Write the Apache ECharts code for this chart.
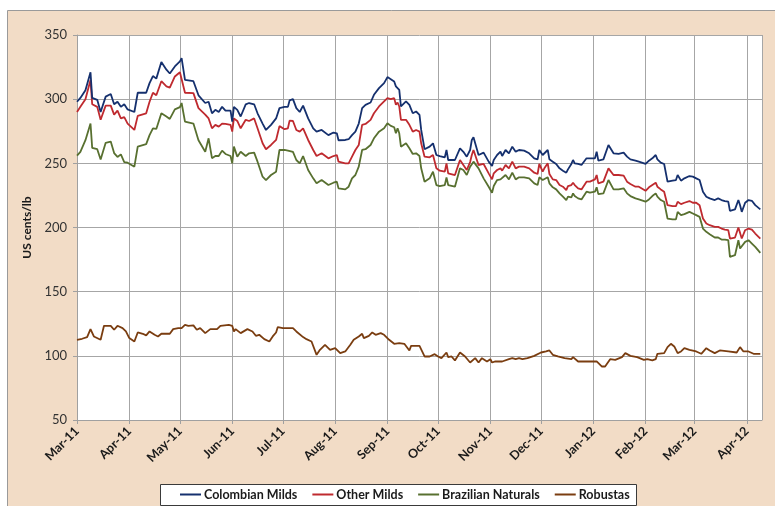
<!DOCTYPE html>
<html><head><meta charset="utf-8">
<script src="https://cdn.jsdelivr.net/npm/echarts@6.0.0/dist/echarts.min.js"></script>
<style>html,body{margin:0;padding:0;background:#fff}#c{width:775px;height:506px}</style>
</head><body><div id="c"></div>
<script>
// ---- data ----
const seriesNames = ['Colombian Milds', 'Other Milds', 'Brazilian Naturals', 'Robustas'];
const yTicks = [50, 100, 150, 200, 250, 300, 350];

const arabicaDates = [
'2011-03-01','2011-03-03','2011-03-06','2011-03-09','2011-03-10','2011-03-13','2011-03-15','2011-03-18','2011-03-21','2011-03-23','2011-03-25','2011-03-27','2011-03-29','2011-03-31',
'2011-04-04','2011-04-06','2011-04-11','2011-04-13','2011-04-15','2011-04-17','2011-04-20','2011-04-23','2011-04-25','2011-04-28',
'2011-05-01','2011-05-02','2011-05-04','2011-05-09','2011-05-12','2011-05-16','2011-05-18','2011-05-20','2011-05-22','2011-05-24','2011-05-26','2011-05-28','2011-05-31',
'2011-06-01','2011-06-02','2011-06-04','2011-06-06','2011-06-09','2011-06-11','2011-06-14','2011-06-16','2011-06-19','2011-06-21','2011-06-24','2011-06-27','2011-06-29',
'2011-07-02','2011-07-04','2011-07-05','2011-07-07','2011-07-09','2011-07-11','2011-07-13','2011-07-16','2011-07-19','2011-07-21','2011-07-24','2011-07-28','2011-07-31',
'2011-08-02','2011-08-03','2011-08-07','2011-08-09','2011-08-11','2011-08-13','2011-08-15','2011-08-17','2011-08-19','2011-08-22','2011-08-24','2011-08-27','2011-08-30',
'2011-09-01','2011-09-03','2011-09-05','2011-09-06','2011-09-07','2011-09-08','2011-09-09','2011-09-12','2011-09-14','2011-09-16','2011-09-18','2011-09-20','2011-09-21','2011-09-23','2011-09-26','2011-09-28','2011-09-30',
'2011-10-02','2011-10-05','2011-10-06','2011-10-07','2011-10-11','2011-10-14','2011-10-16','2011-10-18','2011-10-20','2011-10-21','2011-10-22','2011-10-23','2011-10-25','2011-10-28','2011-10-31',
'2011-11-02','2011-11-03','2011-11-05','2011-11-07','2011-11-08','2011-11-10','2011-11-12','2011-11-14','2011-11-16','2011-11-18','2011-11-21','2011-11-24','2011-11-27','2011-11-29','2011-11-30',
'2011-12-02','2011-12-03','2011-12-05','2011-12-06','2011-12-08','2011-12-10','2011-12-12','2011-12-14','2011-12-16','2011-12-17','2011-12-19','2011-12-20','2011-12-21','2011-12-23','2011-12-25','2011-12-28','2011-12-30',
'2012-01-02','2012-01-03','2012-01-04','2012-01-07','2012-01-10','2012-01-11','2012-01-13','2012-01-16','2012-01-17','2012-01-19','2012-01-21','2012-01-23','2012-01-24','2012-01-26','2012-01-28',
'2012-02-01','2012-02-03','2012-02-05','2012-02-07','2012-02-08','2012-02-10','2012-02-12','2012-02-14','2012-02-17','2012-02-19','2012-02-20','2012-02-22','2012-02-24','2012-02-27','2012-02-29',
'2012-03-02','2012-03-04','2012-03-06','2012-03-08','2012-03-10','2012-03-13','2012-03-15','2012-03-17','2012-03-19','2012-03-21','2012-03-22','2012-03-25','2012-03-27','2012-03-28','2012-03-29','2012-03-31',
'2012-04-02','2012-04-04','2012-04-06','2012-04-09'
];

const colombianMilds = [
298,301,307,321,301,299.5,290,302,304,296,298,294,296,292,
290,305,305,312.5,318,316,329,323,320,325.5,
329.4,332,315,314,303,297,298,289,291.7,290,294,291,291,
282.5,294,291.7,286.5,296,297,296,289,281,276,280,285,293,
294,294,299,300,293,290,295,285,277.3,274.7,276,272,274,
273.4,268,268.2,268.8,272,274.7,281,293,295.6,297.4,303.4,308.6,312.5,
317.2,315.6,313.8,310,311.2,307.3,294.3,298.2,295.6,289,290.4,287.8,276,261,263,265.6,256.5,
255.7,254.7,260.4,252.6,252.6,261.7,259,255.2,260.4,268.2,270.3,268.8,256.5,258.3,251.3,
247.9,252.6,256.5,259.1,255.7,260.4,257.8,263,259.1,260.4,259.9,257.8,253.9,253.1,260.4,
256.5,257.8,260.4,253.1,251.3,249.5,246.1,244.3,242.7,245.3,249.5,252.6,250,249.5,248.7,253.9,253.9,
253.9,259.1,252.1,253.1,264.3,264.3,257.8,257.3,257.8,258.3,255.2,253.1,252.1,252.1,251.3,
249.5,252.1,253.9,256.5,253.1,250.5,249.5,235.7,236.5,237,240.9,236.5,238.3,240.1,239.6,
238.3,237,227.9,224,222.7,221.4,222.7,221.4,220.6,220.1,213,214.1,221.4,217.4,212.2,219.3,
221.4,220.8,217.4,214.1
];

const otherMilds = [
290,294,300,315,296,294,284,295,295,288,291,285,286,281,
276,287,289,298,305,303,314,310,309,317.7,
321,322.4,305,304.7,293,288,285,277.3,280,278.6,281,280.7,280,
274.7,285,283,277.3,283.9,283,285,277.3,265.6,261,264.3,268.2,279,
276.6,277.3,283.3,283,276,274.7,277.3,268.2,260.4,255.7,257.8,253.9,255.7,
256.5,251.3,250,250,255.2,260.4,264.3,280,280.7,283.9,289,294.3,298.2,
300.8,300,300.8,295.6,297.4,294.3,283.9,283.9,280,274.7,276,274.7,265.6,255.2,254.7,256.5,246.1,
244.3,243.5,250,242.2,240.9,252.6,248.7,244.8,251,256.5,260.4,261.7,248.7,249.5,242.2,
237.5,242.2,244.8,246.1,244.3,248.7,246.1,251.3,246.1,247.4,247.4,246.1,242.7,241.7,249.5,
243.5,246.1,250,241.7,237.5,237,233.1,231.8,229.2,232.3,233.1,234.9,233.1,230.5,229.7,235.7,235.7,
237.5,240.9,234.4,235.7,246.1,247.4,240.9,240.9,239.6,240.4,235.7,233.9,233.1,231.8,231.8,
228.6,231.3,233.1,234.9,231.8,229.7,227.9,217.4,216.7,216.7,220.1,218.2,219.3,220.6,219.3,
219.3,217.4,207,203.1,201.8,200.5,200.5,199.2,198.4,197.9,191.4,192.2,200,195.8,191.4,197.9,
199.2,198.4,195.3,191.4
];

const brazilianNaturals = [
256,259,268,281,262,261,253,266,267,258,255,257,251,250.5,
247.4,263,265,272,277.3,276.8,289,286.5,284.6,292,
293.8,297,282.5,281,268,259,269.5,254,255.7,255.7,259.9,257.3,255.7,
250,263,255.2,259,255.7,257.8,258.3,251.3,239.6,237,240.9,243.5,260.4,
260.4,259.9,260.4,259,252.6,250,255.7,244.8,238.3,234.4,237,233.1,234.9,
235.7,230.5,229.7,231.8,238.3,240.9,247.4,260.4,261,264.3,269.5,274.7,277.3,
281.2,279.2,278.1,273.4,277.3,273.4,263,265.6,261.7,257.3,257.8,255.7,246.1,235.7,238.3,243.5,233.1,
232.3,233.1,239.1,233.1,231.8,246.1,244.8,240.9,247.4,248.7,251.3,252.6,246.1,238.3,231.8,
227.1,232.3,237,237.5,237,240.9,237.5,242.7,237.5,239.1,239.1,238.3,234.4,233.1,239.1,
237,237,239.1,234.4,231.3,229.7,226.6,224,221.4,224,223.4,226.6,224.5,222.7,221.9,227.9,227.1,
227.9,231.3,226,226.6,237,237.5,229.7,229.7,230.5,230.5,226.6,224.5,224,222.7,221.9,
220.1,221.9,224.5,226.6,224,221.4,220.1,207,206.3,206.3,212.2,209.6,210.4,212.2,210.9,
209.6,208.3,199.2,196.6,194.8,192.2,192.2,190.6,190.6,190.1,177.1,178.4,190.1,183.6,182.8,188.8,
190.1,187.5,184.9,180.2
];

const robustaDates = [
'2011-03-01','2011-03-04','2011-03-07','2011-03-09','2011-03-11','2011-03-15','2011-03-17','2011-03-21','2011-03-23','2011-03-25','2011-03-28','2011-03-30','2011-03-31',
'2011-04-01','2011-04-04','2011-04-06','2011-04-09','2011-04-11','2011-04-13','2011-04-16','2011-04-18','2011-04-20','2011-04-25','2011-04-27','2011-04-30',
'2011-05-02','2011-05-04','2011-05-06','2011-05-09','2011-05-11','2011-05-13','2011-05-16','2011-05-19','2011-05-23','2011-05-25','2011-05-30',
'2011-06-01','2011-06-02','2011-06-03','2011-06-06','2011-06-10','2011-06-13','2011-06-15','2011-06-17','2011-06-20','2011-06-23','2011-06-25','2011-06-27','2011-06-28',
'2011-07-01','2011-07-07','2011-07-09','2011-07-13','2011-07-15','2011-07-18','2011-07-21','2011-07-23','2011-07-26','2011-07-29',
'2011-08-01','2011-08-04','2011-08-07','2011-08-10','2011-08-12','2011-08-15','2011-08-17','2011-08-18','2011-08-21','2011-08-23','2011-08-25','2011-08-28','2011-08-30',
'2011-09-02','2011-09-05','2011-09-08','2011-09-11','2011-09-14','2011-09-15','2011-09-20','2011-09-23','2011-09-26','2011-09-29',
'2011-10-01','2011-10-03','2011-10-06','2011-10-07','2011-10-09','2011-10-11','2011-10-14','2011-10-17','2011-10-20','2011-10-23','2011-10-25','2011-10-27','2011-10-30',
'2011-11-01','2011-11-02','2011-11-04','2011-11-08','2011-11-12','2011-11-14','2011-11-16','2011-11-18','2011-11-20','2011-11-23','2011-11-27',
'2011-12-01','2011-12-04','2011-12-06','2011-12-08','2011-12-11','2011-12-15','2011-12-19','2011-12-20','2011-12-23','2011-12-29',
'2012-01-03','2012-01-06','2012-01-08','2012-01-11','2012-01-14','2012-01-18','2012-01-20','2012-01-23','2012-01-27','2012-01-31',
'2012-02-02','2012-02-05','2012-02-07','2012-02-08','2012-02-12','2012-02-14','2012-02-16','2012-02-18','2012-02-20','2012-02-22','2012-02-24','2012-02-27',
'2012-03-02','2012-03-05','2012-03-08','2012-03-10','2012-03-13','2012-03-16','2012-03-21','2012-03-26','2012-03-28','2012-03-30',
'2012-04-02','2012-04-05','2012-04-09'
];

const robustas = [
112.5,113.3,114.6,120.8,115.1,112.5,123.4,123.4,120.3,123.4,121.6,119,119.8,
113.8,111.2,118.2,117.2,115.9,119,116.4,115.1,117.2,117.2,120.8,121.6,
121.6,124.2,123.4,123.7,120.3,121.6,117.7,120.8,120.8,123.4,124.2,
123.4,119,120.8,117.7,120.8,119,115.6,116.4,113,111.2,115.1,118.2,122.4,
121.6,121.6,119,114.6,113,111.2,100.8,104.7,108.6,104.7,
106,102.1,103.4,108.6,112.5,115.1,117.2,113.8,115.6,118.2,116.4,117.7,116.4,
112.5,109.4,109.9,109.4,104.2,107.8,107.8,99.5,99.5,101.3,
99.5,98.2,102.6,99,99.5,96.4,102.6,99.5,94.8,98.2,94.8,98.2,95.6,
97.4,94.8,95.6,95.6,97.4,98.2,97.4,98.2,97.4,98.2,100,
102.6,103.4,104.2,100.8,99.5,98.2,97.4,99,95.6,95.6,
95.6,91.7,91.7,97.4,96.9,99,102.1,100,99,96.9,
97.4,96.4,97.4,101.6,102.1,106.8,109.4,107.3,102.1,103.4,106,104.7,
103.4,101.6,106,104.2,102.1,104.2,103.4,102.6,106.8,103.4,
103.4,101.6,101.6
];

const monthNames = ['Jan','Feb','Mar','Apr','May','Jun','Jul','Aug','Sep','Oct','Nov','Dec'];
const xMin = '2011-03-01';
const xMax = '2012-04-10';

// ---- chart ----
const colors = ['#15306E', '#BF2A2F', '#587030', '#7A3D10'];
const pair = (d, v) => d.map((x, i) => [x, v[i]]);
const seriesData = [
  pair(arabicaDates, colombianMilds),
  pair(arabicaDates, otherMilds),
  pair(arabicaDates, brazilianNaturals),
  pair(robustaDates, robustas)
];
const FONT = 'Lato, "Open Sans", sans-serif';
const chart = echarts.init(document.getElementById('c'), null, {renderer: 'canvas'});
const DAY = 86400000;
chart.setOption({
  animation: false,
  backgroundColor: '#ffffff',
  graphic: [
    {type: 'rect', z: -10, shape: {x: 7.5, y: 10.5, width: 780, height: 510},
     style: {fill: '#F2DCC6', stroke: '#9A9A9A', lineWidth: 1}},
    {type: 'rect', z: -5, shape: {x: 160.5, y: 484.5, width: 476, height: 21},
     style: {fill: '#ffffff', stroke: '#3A3A3A', lineWidth: 1}}
  ],
  grid: {left: 77, right: 13, top: 35, bottom: 86, show: true, backgroundColor: '#ffffff', borderWidth: 0},
  legend: {
    left: 180, top: 488, itemGap: 15, itemWidth: 21, itemHeight: 2, icon: 'rect',
    padding: 0, itemStyle: {borderWidth: 0},
    textStyle: {fontFamily: FONT, fontWeight: 'bold', fontSize: 12.5, color: '#1a1a1a', padding: [0, 0, 0, -2]},
    data: seriesNames
  },
  xAxis: {
    type: 'time', min: xMin, max: xMax,
    minInterval: 28 * DAY, maxInterval: 31 * DAY, splitNumber: 14,
    axisLine: {show: true, lineStyle: {color: '#A0A0A0', width: 1}},
    axisTick: {show: true, length: 4, lineStyle: {color: '#A0A0A0'}},
    splitLine: {show: true, lineStyle: {color: '#A6A6A6', width: 1}},
    axisLabel: {
      rotate: 45, margin: 9, fontFamily: FONT, fontWeight: 'bold', fontSize: 12.5, color: '#1a1a1a',
      showMinLabel: true, showMaxLabel: false, hideOverlap: false,
      formatter: v => { const d = new Date(v); return monthNames[d.getMonth()] + '-' + String(d.getFullYear()).slice(2); }
    }
  },
  yAxis: {
    type: 'value', min: yTicks[0], max: yTicks[yTicks.length - 1], interval: 50,
    name: 'US cents/lb', nameLocation: 'middle', nameGap: 44, nameRotate: 90,
    nameTextStyle: {fontFamily: FONT, fontWeight: 'bold', fontSize: 12, color: '#1a1a1a'},
    axisLine: {show: true, lineStyle: {color: '#A0A0A0', width: 1}},
    axisTick: {show: true, length: 4, lineStyle: {color: '#A0A0A0'}},
    splitLine: {show: true, lineStyle: {color: '#A6A6A6', width: 1}},
    axisLabel: {margin: 10, fontFamily: FONT, fontSize: 13, color: '#333333'}
  },
  series: seriesNames.map((n, i) => ({
    name: n, type: 'line', data: seriesData[i], symbol: 'none', showSymbol: false,
    lineStyle: {color: colors[i], width: 1.8}, itemStyle: {color: colors[i]}, z: 10 - i
  }))
});
</script></body></html>
